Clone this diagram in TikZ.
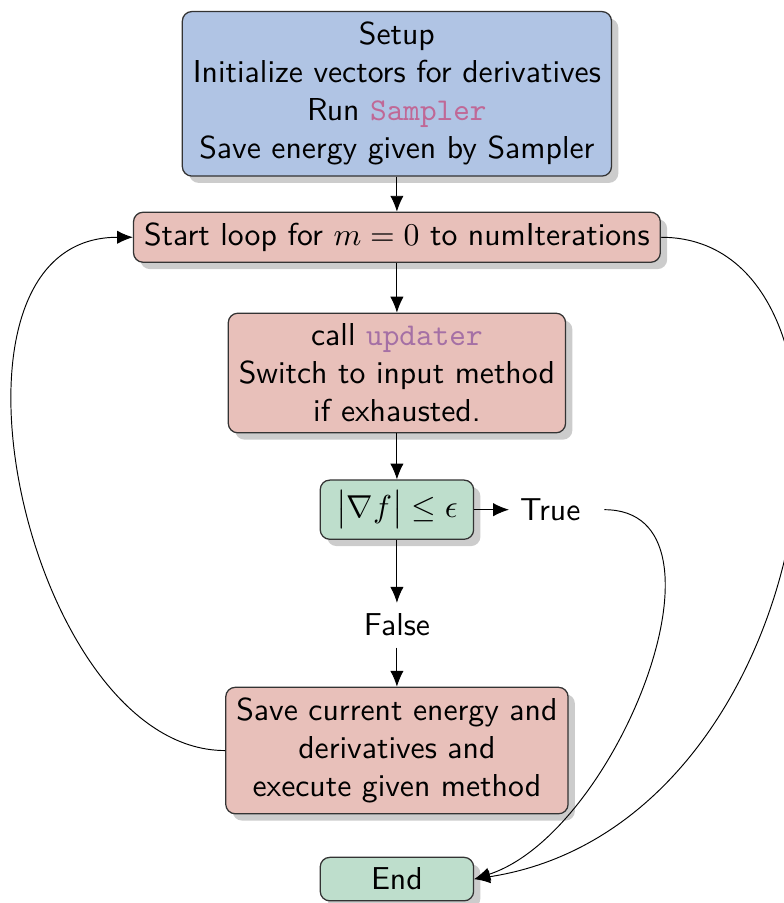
\documentclass[tikz,border=0pt]{standalone}
\usepackage{amsmath}
\usepackage{amssymb}
\usetikzlibrary{arrows.meta}
\usetikzlibrary{shadows}
\definecolor{setupblue}{RGB}{176,196,228}
\definecolor{looppink}{RGB}{232,192,186}
\definecolor{testgreen}{RGB}{190,222,204}
\definecolor{samplercol}{RGB}{192,104,150}
\definecolor{updatercol}{RGB}{165,112,165}
\tikzset{box/.style={draw=black!80, rounded corners=3pt, align=center, font=\sffamily,
    drop shadow={fill=black!20, opacity=1}},
  bluebox/.style={box, fill=setupblue},
  pinkbox/.style={box, fill=looppink},
  greenbox/.style={box, fill=testgreen, minimum width=1.7cm},
  plain/.style={font=\sffamily},
  flow/.style={-{Latex[length=5pt, width=4.2pt]}, line width=0.3pt}}

\begin{document}
\begin{tikzpicture}
      \useasboundingbox (0, 0) rectangle (8.68, -10.01);

      \node [bluebox] (setup) at (4.40, -1.04) {Setup\\Initialize vectors for derivatives\\Run \textcolor{samplercol}{\texttt{Sampler}}\\Save energy given by Sampler};
      \node [pinkbox] (loop) at (4.40, -2.63) {Start loop for $m=0$ to numIterations};
      \node [pinkbox] (update) at (4.40, -4.135) {call \textcolor{updatercol}{\texttt{updater}}\\Switch to input method\\if exhausted.};
      \node [greenbox] (test) at (4.40, -5.65) {$\big|\nabla f\big| \leq \epsilon$};
      \node [plain] (true) at (6.10, -5.65) {True};
      \node [plain] (false) at (4.40, -6.93) {False};
      \node [pinkbox] (save) at (4.40, -8.32) {Save current energy and\\derivatives and\\execute given method};
      \node [greenbox] (end) at (4.40, -9.745) {End};

      \draw [flow] (setup) -- (loop);
      \draw [flow] (loop) -- (update);
      \draw [flow] (update) -- (test);
      \draw [flow] (test) -- (true);
      \draw [flow] (test) -- (false);
      \draw [flow] (false) -- (save);

      \draw [flow] (save.west) .. controls +(-2.2, 0) and +(-2.4, 0) .. (loop.west);
      \draw [flow, shorten <=4pt] (true.east) to [out=0, in=18] (end.east);
      \draw [flow] (loop.east) .. controls +(2.6, 0) and +(3.9, 0.6) .. (end.east);
\end{tikzpicture}
\end{document}
